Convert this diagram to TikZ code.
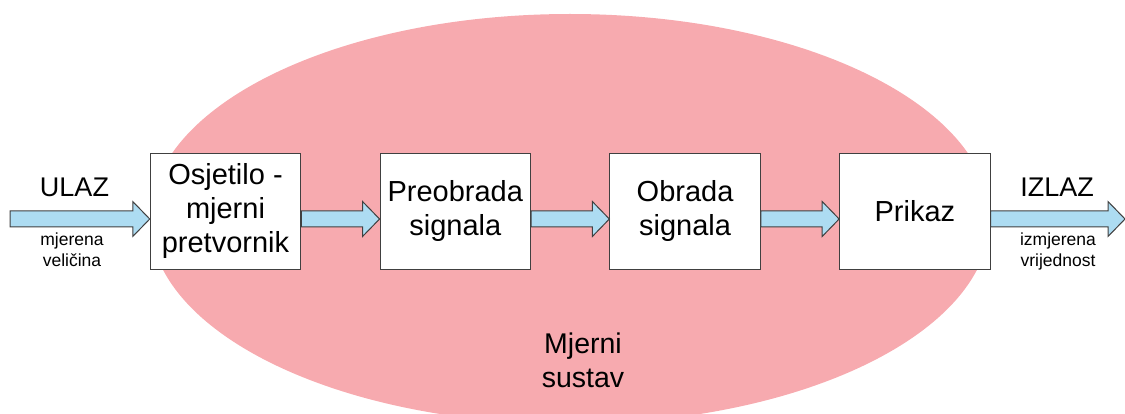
\documentclass[tikz,border=0pt]{standalone}
\usepackage{fontspec}
\setmainfont{Liberation Sans}
\usetikzlibrary{positioning,calc}

\definecolor{sustavpink}{RGB}{247,170,175}
\definecolor{strelicablue}{RGB}{173,220,242}
\definecolor{rub}{RGB}{64,64,64}

\tikzset{
  blok/.style={draw=rub, line width=1pt, fill=white, minimum width=150.5pt,
    minimum height=116pt, inner sep=0pt, align=center,
    font=\fontsize{29}{34}\selectfont},
  strelica/.style={draw=rub, line width=1pt, fill=strelicablue,
    to path={let \p1=(\tikztostart), \p2=(\tikztotarget) in
      (\x1,\y1+8pt) -- (\x2-17pt,\y1+8pt) -- (\x2-17pt,\y1+17.5pt) -- (\x2,\y1)
      -- (\x2-17pt,\y1-17.5pt) -- (\x2-17pt,\y1-8pt) -- (\x1,\y1-8pt) -- cycle}},
  oznaka/.style={inner sep=0pt, font=\fontsize{27}{32}\selectfont},
  opis/.style={inner sep=0pt, align=center, font=\fontsize{17.5}{21}\selectfont}
}

\begin{document}
\begin{tikzpicture}[x=1pt, y=-1pt, node distance=78.3pt]
  \useasboundingbox (0,0) rectangle (1125,414);
  % measuring system
  \fill[sustavpink] (570,219) ellipse [x radius=420pt, y radius=205pt];
  \node[align=center, inner sep=0pt, font=\fontsize{28.5}{34}\selectfont, anchor=north]
    (sustav) at (583,333) {Mjerni\\sustav};

  % blocks
  \node[blok] (osjetilo) at (225.5,211.5) {Osjetilo -\\mjerni\\pretvornik};
  \node[blok, right=of osjetilo] (preobrada) {Preobrada\\signala};
  \node[blok, right=of preobrada] (obrada) {Obrada\\signala};
  \node[blok, right=of obrada] (prikaz) {Prikaz};

  \coordinate (ulaz) at (10,219);
  \coordinate (izlaz) at (1125,219);

  % arrows
  \draw[strelica] (ulaz) to (osjetilo.west |- ulaz);
  \draw[strelica] (osjetilo.east |- ulaz) to (preobrada.west |- ulaz);
  \draw[strelica] (preobrada.east |- ulaz) to (obrada.west |- ulaz);
  \draw[strelica] (obrada.east |- ulaz) to (prikaz.west |- ulaz);
  \draw[strelica] (prikaz.east |- ulaz) to (izlaz);

  % labels
  \node[oznaka, anchor=base] (ulaztxt) at (74.5,197) {ULAZ};
  \node[opis, anchor=north] (ulazopis) at (72,233) {mjerena\\veličina};
  \node[oznaka, anchor=base] (izlaztxt) at (1057,197) {IZLAZ};
  \node[opis, anchor=north] (izlazopis) at (1058,233) {izmjerena\\vrijednost};
\end{tikzpicture}
\end{document}
